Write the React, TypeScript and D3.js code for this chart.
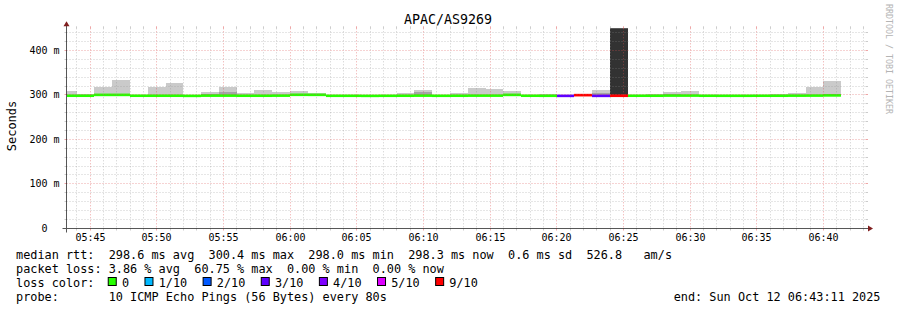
import React from "react";
import * as d3 from "d3";

// ---------- data ----------
const title = "APAC/AS9269";
const startClock = "05:43:11";
const endClock = "06:43:11";
const firstSampleEnd = "05:43:59";
const stepSeconds = 80;

const xTickLabels = ["05:45", "05:50", "05:55", "06:00", "06:05", "06:10", "06:15", "06:20", "06:25", "06:30", "06:35", "06:40"];
const yTickValues = [0, 100, 200, 300, 400];
const yMaxMs = 450;

// median rtt per 80 s step (ms)
const medianMs = [
  298.3, 298.3, 300.2, 300.2, 298.3, 298.3, 298.3, 298.0, 298.5, 298.5,
  298.3, 298.3, 298.5, 300.4, 300.3, 298.2, 298.2, 298.0, 298.2, 298.3,
  298.5, 298.2, 298.3, 298.5, 298.5, 300.2, 298.3, 298.2, 298.0, 299.6,
  298.0, 298.2, 298.3, 298.3, 298.6, 298.6, 298.3, 298.2, 298.2, 298.3,
  298.3, 298.5, 298.6, 299.0,
];
// packet loss per step (%)
const lossPct = [
  0, 0, 0, 0, 0, 0, 0, 0, 0, 0,
  0, 0, 0, 0, 0, 0, 0, 0, 0, 0,
  0, 0, 0, 0, 0, 0, 0, 0, 28, 55,
  30, 60.75, 0, 0, 0, 0, 0, 0, 0, 0,
  0, 0, 0, 0,
];
// smoke: fastest ping, slowest ping, 2nd slowest, and core layer (ms)
const smokeMin = [
  297.6, 297.6, 297.8, 297.8, 297.6, 297.6, 297.6, 297.5, 297.7, 297.7,
  297.6, 297.6, 297.7, 297.9, 297.9, 297.5, 297.5, 297.5, 297.5, 297.6,
  297.7, 297.5, 297.6, 297.7, 297.7, 297.8, 297.6, 297.5, 297.4, 298.0,
  297.4, 297.6, 297.6, 297.6, 297.8, 297.8, 297.6, 297.5, 297.5, 297.6,
  297.6, 297.7, 297.8, 298.0,
];
const smokeMax = [
  309, 302, 319, 334, 299, 317, 328, 298.5, 307, 319,
  305, 312, 307, 309, 305, 298.5, 301, 298.5, 299, 305,
  311, 298.5, 305, 316, 314, 309, 298.5, 302, 298.5, 300,
  311, 520, 301, 302, 307, 310, 299, 298.5, 298.5, 299,
  302, 305, 319, 332,
];
const smokeSecond: (number | null)[] = [
  null, null, null, null, null, null, null, null, 302, 307,
  null, null, null, null, null, null, null, null, null, null,
  306, null, null, null, null, null, null, null, null, null,
  305, null, null, null, 302.5, null, null, null, null, null,
  null, null, null, 303,
];
const smokeCore: (number | null)[] = [
  null, null, null, null, null, null, null, null, null, null,
  null, null, null, null, null, null, null, null, null, null,
  null, null, null, null, null, null, null, null, null, null,
  null, 520, null, null, null, null, null, null, null, null,
  null, null, null, null,
];

const lossLevels = [0, 1, 2, 3, 4, 5, 9];
const lossLabels = ["0", "1/10", "2/10", "3/10", "4/10", "5/10", "9/10"];
const lossColors = ["#26ff00", "#00b8ff", "#0059ff", "#5e00ff", "#7e00ff", "#dd00ff", "#ff0000"];

const legendRtt = "median rtt:  298.6 ms avg  300.4 ms max  298.0 ms min  298.3 ms now  0.6 ms sd  526.8   am/s";
const legendLoss = "packet loss: 3.86 % avg  60.75 % max  0.00 % min  0.00 % now";
const legendLossTitle = "loss color:";
const legendProbe = "probe:       10 ICMP Echo Pings (56 Bytes) every 80s";
const legendEnd = "end: Sun Oct 12 06:43:11 2025";

// ---------- layout ----------
const W = 897, H = 310;
const X0 = 66, XSIZE = 800, Y0 = 228.3, YSIZE = 200;
const MONO = "'DejaVu Sans Mono', monospace";
const CW = 7.134; // legend char width

const keep = (s: string) => s.replace(/ /g, "\u00a0");

const toSec = (s: string) => {
  const p = s.split(":").map(Number);
  return p[0] * 3600 + p[1] * 60 + (p[2] || 0);
};
const t0 = toSec(startClock);
const span = toSec(endClock) - t0;

function lossColor(pct: number) {
  const pings = pct / 10;
  let last = -1;
  for (let i = 0; i < lossLevels.length; i++) {
    if (pings > last && pings <= lossLevels[i]) return lossColors[i];
    last = lossLevels[i];
  }
  return lossColors[lossColors.length - 1];
}

export default function App() {
  const x = d3.scaleLinear().domain([0, span]).range([X0, X0 + XSIZE]);
  const y = d3.scaleLinear().domain([0, yMaxMs]).range([Y0, Y0 - YSIZE]);
  const snap = (v: number) => Math.floor(v) + 0.5;
  const X1 = X0 + XSIZE;
  const Ytop = Y0 - YSIZE;
  const ax = snap(X0), ay = snap(Y0);

  const firstEnd = toSec(firstSampleEnd) - t0;
  const bars = medianMs.map((m, i) => {
    const e = firstEnd + i * stepSeconds;
    const xa = Math.max(Math.round(x(e - stepSeconds)), X0 + 1);
    const xb = Math.round(x(e));
    return { i, xa, xb, m };
  });

  const band = 1.3;

  const minorX: number[] = [];
  for (let t = Math.ceil(t0 / 60) * 60; t <= t0 + span; t += 60) {
    if (t % 300 !== 0) minorX.push(t - t0);
  }
  const majorX = xTickLabels.map((l) => toSec(l) - t0);
  const minorY: number[] = [];
  for (let v = 20; v < yMaxMs; v += 20) if (v % 100 !== 0) minorY.push(v);
  const majorY = yTickValues.filter((v) => v > 0);

  const gridMinor = "rgba(143,143,143,0.45)";
  const gridMajor = "rgba(222,79,79,0.5)";

  // legend squares
  const squares: { sx: number; label: string; color: string }[] = [];
  let sx = 16 + 13 * CW - 0.5;
  lossLabels.forEach((l, i) => {
    squares.push({ sx, label: l, color: lossColors[i] });
    sx = sx + 13.7 + l.length * CW + 15.9;
  });

  return (
    <svg width={W} height={H} style={{ display: "block", position: "absolute", left: 0, top: 0, background: "#fff" }}
      fontFamily={MONO}>
      <defs>
        <clipPath id="plot">
          <rect x={X0} y={Ytop} width={XSIZE} height={YSIZE} />
        </clipPath>
      </defs>
      <rect x={0} y={0} width={W} height={H} fill="#fff" />

      {/* smoke */}
      <g clipPath="url(#plot)" shapeRendering="crispEdges">
        {bars.map((b) => (
          <rect key={"o" + b.i} x={b.xa} width={b.xb - b.xa} y={y(smokeMax[b.i])}
            height={Math.max(0, y(smokeMin[b.i]) - y(smokeMax[b.i]))} fill="#cacaca" />
        ))}
        {bars.map((b) => smokeSecond[b.i] == null ? null : (
          <rect key={"s" + b.i} x={b.xa} width={b.xb - b.xa} y={y(smokeSecond[b.i] as number)}
            height={Math.max(0, y(smokeMin[b.i]) - y(smokeSecond[b.i] as number))} fill="#a4a4a4" />
        ))}
        {bars.map((b) => smokeCore[b.i] == null ? null : (
          <rect key={"c" + b.i} x={b.xa} width={b.xb - b.xa} y={y(smokeCore[b.i] as number)}
            height={Math.max(0, y(smokeMin[b.i]) - y(smokeCore[b.i] as number))} fill="#323232" />
        ))}
      </g>
      {/* median */}
      <g clipPath="url(#plot)">
        {bars.map((b) => (
          <rect key={"m" + b.i} x={b.xa} width={b.xb - b.xa} y={y(b.m) - band} height={band * 2}
            fill={lossColor(lossPct[b.i])} />
        ))}
      </g>

      {/* grid */}
      <g strokeWidth={1}>
        {minorX.map((t) => {
          const gx = snap(x(t));
          return (
            <g key={"vx" + t} stroke={gridMinor}>
              <line x1={gx} x2={gx} y1={Ytop - 2} y2={Ytop} />
              <line x1={gx} x2={gx} y1={ay} y2={ay + 2} />
              <line x1={gx} x2={gx} y1={Ytop} y2={ay} strokeDasharray="1 2" />
            </g>
          );
        })}
        {minorY.map((v) => {
          const gy = snap(y(v));
          return (
            <g key={"hy" + v} stroke={gridMinor}>
              <line x1={ax - 2} x2={ax} y1={gy} y2={gy} />
              <line x1={X1} x2={X1 + 2} y1={gy} y2={gy} />
              <line x1={ax} x2={X1} y1={gy} y2={gy} strokeDasharray="1 2" />
            </g>
          );
        })}
        {majorX.map((t) => {
          const gx = snap(x(t));
          return (
            <g key={"VX" + t} stroke={gridMajor}>
              <line x1={gx} x2={gx} y1={Ytop - 2} y2={Ytop} />
              <line x1={gx} x2={gx} y1={ay} y2={ay + 2} />
              <line x1={gx} x2={gx} y1={Ytop} y2={ay} strokeDasharray="1 2" />
            </g>
          );
        })}
        {majorY.map((v) => {
          const gy = snap(y(v));
          return (
            <g key={"HY" + v} stroke={gridMajor}>
              <line x1={ax - 2} x2={ax} y1={gy} y2={gy} />
              <line x1={X1} x2={X1 + 2} y1={gy} y2={gy} />
              <line x1={ax} x2={X1} y1={gy} y2={gy} strokeDasharray="1 2" />
            </g>
          );
        })}
      </g>

      {/* axes */}
      <g stroke="rgb(31,31,31)" strokeWidth={1} opacity={0.75}>
        <line x1={ax - 4} x2={X1 + 4} y1={ay} y2={ay} />
        <line x1={ax} x2={ax} y1={ay + 4} y2={Ytop - 4} />
      </g>
      <path d={`M${X1 + 2},${ay - 3}L${X1 + 2},${ay + 3}L${X1 + 7},${ay}Z`} fill="rgb(128,31,31)" />
      <path d={`M${ax - 3},${Ytop - 2}L${ax + 3},${Ytop - 2}L${ax},${Ytop - 7}Z`} fill="rgb(128,31,31)" />

      {/* axis labels */}
      <g fontSize={10} fill="#000">
        {majorX.map((t, i) => (
          <text key={"xl" + i} x={snap(x(t))} y={241} textAnchor="middle">{xTickLabels[i]}</text>
        ))}
        {yTickValues.map((v) => (
          <text key={"yl" + v} x={59.5} y={snap(y(v)) + 3.5} textAnchor="end">
            {keep(v === 0 ? "0  " : `${v} m`)}
          </text>
        ))}
      </g>

      <text x={448} y={24} fontSize={13.3} textAnchor="middle" fill="#000">{title}</text>
      <text transform="translate(15.5,126) rotate(-90)" fontSize={12} textAnchor="middle" fill="#000">Seconds</text>
      <text transform="translate(886,4) rotate(90)" fontSize={8.3} fill="#b4b4b4">{keep("RRDTOOL / TOBI OETIKER")}</text>

      {/* legend */}
      <g fontSize={11.85} fill="#000">
        <text x={16} y={258.5}>{keep(legendRtt)}</text>
        <text x={16} y={272.7}>{keep(legendLoss)}</text>
        <text x={16} y={286.9}>{keep(legendLossTitle)}</text>
        {squares.map((s) => (
          <g key={s.label}>
            <rect x={s.sx} y={277.5} width={8} height={8} fill={s.color} stroke="#000" strokeWidth={1} />
            <text x={s.sx + 13.7} y={286.9}>{s.label}</text>
          </g>
        ))}
        <text x={16} y={301}>{keep(legendProbe)}</text>
        <text x={880.5} y={301} textAnchor="end">{keep(legendEnd)}</text>
      </g>
    </svg>
  );
}
